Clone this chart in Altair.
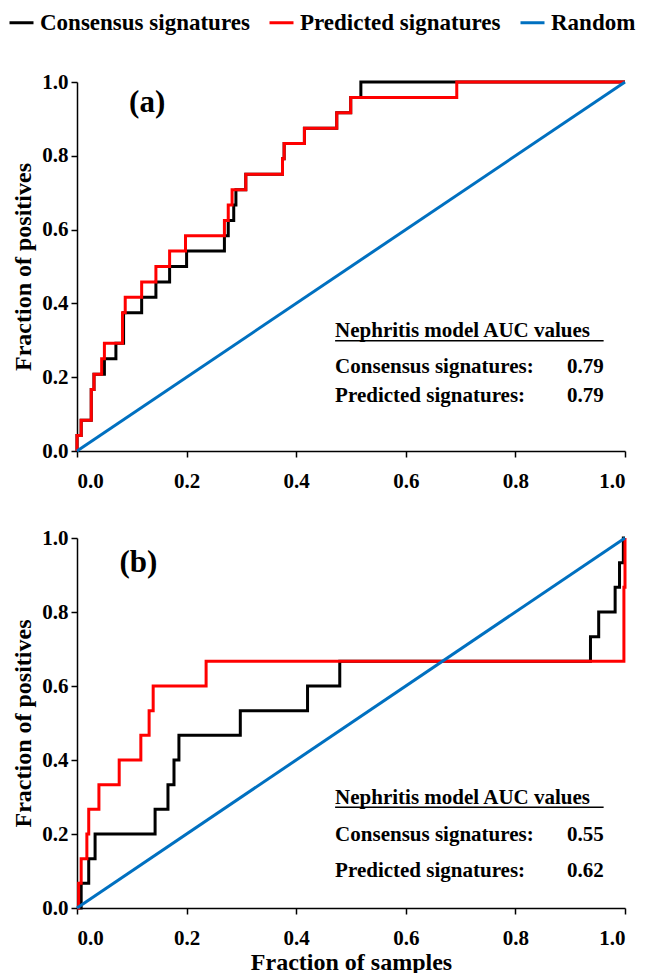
import altair as alt
import pandas as pd

FONT = "Liberation Serif"
SERIES = ["Consensus signatures", "Predicted signatures", "Random"]
COLORS = ["#000000", "#FF0000", "#0070C0"]
TICKS = [0.0, 0.2, 0.4, 0.6, 0.8, 1.0]

# Panel (a) step curves: x where the curve rises, y reached at that x
a_cons_x = [0.0, 0.0, 0.0076, 0.026, 0.031, 0.05, 0.071, 0.085, 0.118, 0.144, 0.169, 0.2,
            0.269, 0.276, 0.286, 0.29, 0.308, 0.375, 0.378, 0.415, 0.474, 0.4995, 0.518, 1.0]
a_cons_y = [0.0, 0.042, 0.083, 0.167, 0.208, 0.25, 0.292, 0.375, 0.417, 0.458, 0.5, 0.542,
            0.583, 0.625, 0.667, 0.708, 0.75, 0.792, 0.833, 0.875, 0.917, 0.958, 1.0, 1.0]
a_pred_x = [0.0, 0.0, 0.0076, 0.026, 0.031, 0.045, 0.05, 0.083, 0.088, 0.118, 0.144, 0.169,
            0.198, 0.269, 0.276, 0.283, 0.308, 0.375, 0.378, 0.415, 0.474, 0.4995, 0.693, 1.0]
a_pred_y = [0.0, 0.042, 0.083, 0.167, 0.208, 0.25, 0.292, 0.375, 0.417, 0.458, 0.5, 0.542,
            0.583, 0.625, 0.667, 0.708, 0.75, 0.792, 0.833, 0.875, 0.917, 0.958, 1.0, 1.0]

# Panel (b)
b_cons_x = [0.0, 0.0076, 0.0214, 0.033, 0.1425, 0.166, 0.177, 0.186, 0.298, 0.4207, 0.4795,
            0.937, 0.952, 0.982, 0.99, 0.997, 1.0]
b_cons_y = [0.0, 0.067, 0.133, 0.2, 0.267, 0.333, 0.4, 0.467, 0.533, 0.6, 0.667,
            0.733, 0.8, 0.867, 0.933, 1.0, 1.0]
b_pred_x = [0.0, 0.003, 0.0076, 0.018, 0.0214, 0.04, 0.077, 0.1165, 0.1316, 0.139, 0.2356,
            0.998, 1.0]
b_pred_y = [0.0, 0.067, 0.133, 0.2, 0.267, 0.333, 0.4, 0.467, 0.533, 0.6, 0.667,
            0.867, 1.0]

random_x = [0.0, 1.0]
random_y = [0.0, 1.0]

header_text = "Nephritis model AUC values"
label_cons = "Consensus signatures:"
label_pred = "Predicted signatures:"
a_auc = ["0.79", "0.79"]
b_auc = ["0.55", "0.62"]


def frame(xs, ys, series):
    return pd.DataFrame({"x": xs, "y": ys, "series": series, "i": list(range(len(xs)))})


color = alt.Color("series:N", scale=alt.Scale(domain=SERIES, range=COLORS),
                  legend=alt.Legend(title=None))


def panel(cons, pred, tag, tag_xy, aucs, text_y, rule_y, height, x_title):
    xenc = alt.X("x:Q", scale=alt.Scale(domain=[0, 1], nice=False),
                 axis=alt.Axis(values=TICKS, format=".1f", title=x_title))
    yenc = alt.Y("y:Q", scale=alt.Scale(domain=[0, 1], nice=False),
                 axis=alt.Axis(values=TICKS, format=".1f", title="Fraction of positives"))
    layers = []
    for (xs, ys), name in [(cons, SERIES[0]), (pred, SERIES[1]), ((random_x, random_y), SERIES[2])]:
        interp = "linear" if name == "Random" else "step-after"
        layers.append(
            alt.Chart(frame(xs, ys, name)).mark_line(interpolate=interp, strokeWidth=3)
            .encode(x=xenc, y=yenc, color=color, order="i:Q")
        )
    tag_df = pd.DataFrame({"x": [tag_xy[0]], "y": [tag_xy[1]], "t": [tag]})
    layers.append(
        alt.Chart(tag_df).mark_text(font=FONT, fontWeight="bold", fontSize=31, color="black",
                                    align="center", baseline="middle")
        .encode(x="x:Q", y="y:Q", text="t:N")
    )
    left_df = pd.DataFrame({"x": [0.471, 0.471, 0.471], "y": text_y,
                            "t": [header_text, label_cons, label_pred]})
    layers.append(
        alt.Chart(left_df).mark_text(font=FONT, fontWeight="bold", fontSize=21, color="black",
                                     align="left", baseline="middle")
        .encode(x="x:Q", y="y:Q", text="t:N")
    )
    right_df = pd.DataFrame({"x": [0.961, 0.961], "y": text_y[1:], "t": aucs})
    layers.append(
        alt.Chart(right_df).mark_text(font=FONT, fontWeight="bold", fontSize=21, color="black",
                                      align="right", baseline="middle")
        .encode(x="x:Q", y="y:Q", text="t:N")
    )
    rule_df = pd.DataFrame({"x": [0.471], "x2": [0.961], "y": [rule_y]})
    layers.append(
        alt.Chart(rule_df).mark_rule(color="black", strokeWidth=1.5)
        .encode(x="x:Q", x2="x2:Q", y="y:Q")
    )
    return alt.layer(*layers).properties(width=548, height=height)


pa = panel((a_cons_x, a_cons_y), (a_pred_x, a_pred_y), "(a)", (0.128, 0.943), a_auc,
           [0.325, 0.228, 0.149], 0.299, 369, None)
pb = panel((b_cons_x, b_cons_y), (b_pred_x, b_pred_y), "(b)", (0.112, 0.932), b_auc,
           [0.297, 0.197, 0.1], 0.272, 370, "Fraction of samples")

chart = (
    alt.vconcat(pa, pb, spacing=36)
    .properties(padding={"left": 0, "top": 1, "right": 0, "bottom": 0})
    .configure_view(stroke=None)
    .configure_axis(
        grid=False, domainColor="black", domainWidth=1.5, tickColor="black", tickWidth=1.5,
        tickSize=6, labelFont=FONT, labelFontWeight="bold", labelFontSize=21, labelColor="black",
        labelPadding=3, titleFont=FONT, titleFontWeight="bold", titleFontSize=24,
        titleColor="black", titlePadding=6,
    )
    .configure_axisX(labelPadding=13, titlePadding=2)
    .configure_legend(
        orient="none", legendX=-69, legendY=-73, direction="horizontal", symbolType="stroke",
        symbolStrokeWidth=3, symbolSize=576, labelFont=FONT, labelFontWeight="bold",
        labelFontSize=23, labelColor="black", labelOffset=5, columnPadding=13,
        labelLimit=400, padding=0, offset=0,
    )
)

chart.save("out.html", embed_options={"renderer": "svg", "actions": False})
